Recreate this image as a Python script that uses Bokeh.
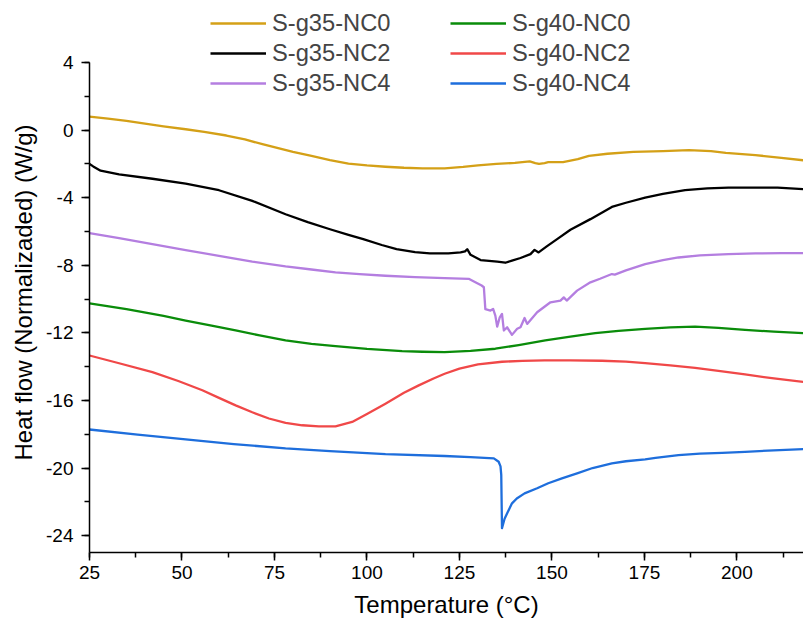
from bokeh.plotting import figure
from bokeh.models import (Range1d, SingleIntervalTicker, Legend, LegendItem, Title,
                          CustomJSTickFormatter)
from bokeh.embed import file_html
from bokeh.resources import INLINE

FONT = "Liberation Sans"

# DSC traces: temperature (°C) and normalized heat flow (W/g)
t_g35_nc0 = [25, 30, 35, 40, 45, 51, 56, 62, 67, 72, 76, 80, 85, 90, 95, 100, 105, 110, 115, 121,
             126, 130, 135, 140, 144, 145.5, 146.5, 148, 149, 153, 157, 160, 165, 172, 180, 187,
             193, 197, 205, 212, 218]
hf_g35_nc0 = [0.8, 0.68, 0.55, 0.38, 0.22, 0.05, -0.1, -0.32, -0.55, -0.85, -1.07, -1.29, -1.53,
              -1.78, -1.98, -2.09, -2.17, -2.23, -2.26, -2.26, -2.18, -2.09, -2.0, -1.94, -1.85,
              -1.95, -2.0, -1.95, -1.9, -1.89, -1.72, -1.52, -1.40, -1.29, -1.25, -1.19, -1.25,
              -1.35, -1.48, -1.64, -1.79]

t_g35_nc2 = [25, 26, 28, 33, 42, 51, 60, 69, 78, 84, 90, 95, 99, 104, 108, 113, 117, 122, 125.3,
             126.5, 127.1, 128, 130.7, 133, 135.2, 137.4, 139.2, 141.5, 144.2, 145.3, 146.4,
             148.5, 151.4, 155, 160.4, 166.2, 170, 175.2, 180, 186, 192, 197.7, 205, 211, 218]
hf_g35_nc2 = [-2.0, -2.15, -2.4, -2.62, -2.88, -3.17, -3.56, -4.19, -4.98, -5.45, -5.87, -6.2,
              -6.45, -6.8, -7.04, -7.22, -7.30, -7.30, -7.24, -7.18, -7.05, -7.38, -7.69, -7.74,
              -7.79, -7.85, -7.73, -7.57, -7.34, -7.09, -7.24, -6.9, -6.45, -5.9, -5.27, -4.55,
              -4.3, -4.0, -3.78, -3.55, -3.45, -3.41, -3.40, -3.41, -3.49]

t_g35_nc4 = [25, 33, 42, 51, 60, 69, 78, 85, 91.5, 98, 105, 113, 121, 127.5, 129.3, 131, 131.6,
             132, 133.4, 134.1, 134.7, 135.2, 135.9, 136.5, 137, 137.9, 139.2, 140.6, 141.5,
             142.6, 143.3, 146, 149.6, 152.3, 153.2, 154, 156.8, 160.4, 163, 166.2, 167, 170,
             175.2, 180, 184.2, 190, 197.7, 205, 212, 218]
hf_g35_nc4 = [-6.1, -6.4, -6.75, -7.1, -7.44, -7.78, -8.07, -8.25, -8.42, -8.53, -8.62, -8.70,
              -8.76, -8.80, -9.01, -9.2, -9.3, -10.6, -10.68, -10.58, -10.98, -11.63, -11.08,
              -10.88, -11.86, -11.67, -12.12, -11.76, -11.67, -11.12, -11.47, -10.78, -10.19,
              -10.09, -9.9, -10.09, -9.5, -9.01, -8.8, -8.52, -8.55, -8.3, -7.93, -7.7, -7.54,
              -7.42, -7.34, -7.3, -7.28, -7.28]

t_g40_nc0 = [25, 35, 45, 51, 58, 64.5, 71, 78, 85, 91.5, 100, 109.5, 115, 121, 128, 134.7, 141,
             148.2, 155, 161.7, 168, 175.2, 182, 188.7, 195, 202.2, 210, 218]
hf_g40_nc0 = [-10.25, -10.6, -11.0, -11.27, -11.57, -11.86, -12.15, -12.45, -12.65, -12.79,
              -12.95, -13.08, -13.12, -13.14, -13.07, -12.94, -12.72, -12.45, -12.22, -12.02,
              -11.88, -11.76, -11.68, -11.63, -11.7, -11.82, -11.93, -12.02]

t_g40_nc2 = [25, 33, 42, 49, 55.5, 60, 64.5, 69, 73.5, 78, 82.5, 87, 91.5, 96, 100, 105, 110,
             114, 118, 121, 125, 130, 136.5, 142, 148, 155, 163.5, 170, 175.2, 182, 188.7, 195,
             202.2, 210, 218]
hf_g40_nc2 = [-13.34, -13.8, -14.32, -14.85, -15.40, -15.85, -16.29, -16.7, -17.07, -17.33,
              -17.47, -17.53, -17.53, -17.27, -16.8, -16.19, -15.55, -15.11, -14.7, -14.42,
              -14.12, -13.87, -13.71, -13.66, -13.63, -13.63, -13.65, -13.7, -13.79, -13.92,
              -14.07, -14.25, -14.46, -14.7, -14.91]

t_g40_nc4 = [25, 38, 51, 64, 78, 90, 105, 121, 128, 134.3, 135.6, 136.1, 136.3, 136.5, 137.2,
             137.9, 139.2, 140.5, 142.6, 146, 149, 152.7, 157, 161, 166.2, 170, 175.2, 178,
             184.2, 190, 196, 202.2, 210, 218]
hf_g40_nc4 = [-17.72, -18.02, -18.30, -18.58, -18.84, -19.0, -19.18, -19.29, -19.35, -19.43,
              -19.63, -19.9, -20.4, -23.56, -23.0, -22.68, -22.09, -21.8, -21.5, -21.2, -20.9,
              -20.61, -20.3, -20.0, -19.73, -19.6, -19.49, -19.4, -19.24, -19.15, -19.1,
              -19.04, -18.95, -18.88]

series = [
    ("S-g35-NC0", t_g35_nc0, hf_g35_nc0, "#D4A017"),
    ("S-g35-NC2", t_g35_nc2, hf_g35_nc2, "#000000"),
    ("S-g35-NC4", t_g35_nc4, hf_g35_nc4, "#B47EE0"),
    ("S-g40-NC0", t_g40_nc0, hf_g40_nc0, "#0A8C0A"),
    ("S-g40-NC2", t_g40_nc2, hf_g40_nc2, "#F04848"),
    ("S-g40-NC4", t_g40_nc4, hf_g40_nc4, "#1E6EDC"),
]

# The frame runs to the top edge so the legend can sit above the traces;
# the y axis itself is bounded to -25..4.
p = figure(width=803, height=620, output_backend="svg", toolbar_location=None,
           x_range=Range1d(25, 218), y_range=Range1d(-25, 7.67),
           min_border_left=89, min_border_right=0, min_border_top=0, min_border_bottom=68)
p.outline_line_color = None
p.grid.visible = False
p.background_fill_color = "white"
p.border_fill_color = "white"

renderers = {}
for name, xs, ys, color in series:
    renderers[name] = p.line(xs, ys, line_color=color, line_width=2.3, line_join="round")

p.xaxis.ticker = SingleIntervalTicker(interval=25, num_minor_ticks=2)
p.yaxis.ticker = SingleIntervalTicker(interval=4, num_minor_ticks=2)
p.yaxis.bounds = (-25, 4)
p.yaxis.formatter = CustomJSTickFormatter(code="return tick.toFixed(0)")
for ax in (p.xaxis[0], p.yaxis[0]):
    ax.axis_line_width = 1.5
    ax.major_tick_line_width = 1.5
    ax.minor_tick_line_width = 1.5
    ax.major_tick_in = 0
    ax.major_tick_out = 8
    ax.minor_tick_in = 0
    ax.minor_tick_out = 5
    ax.major_label_text_font = FONT
    ax.major_label_text_font_size = "19px"
    ax.major_label_text_color = "black"
p.xaxis.major_label_standoff = 5
p.yaxis.major_label_standoff = 8

p.xaxis.axis_label = "Temperature (°C)"
p.xaxis.axis_label_text_font = FONT
p.xaxis.axis_label_text_font_size = "24px"
p.xaxis.axis_label_text_font_style = "normal"
p.xaxis.axis_label_text_color = "black"
p.xaxis.axis_label_standoff = 9

ylabel = Title(text="Heat flow (Normalizaded) (W/g)", align="left", offset=92,
               text_font=FONT, text_font_size="24px", text_font_style="normal",
               text_color="black", standoff=14)
p.add_layout(ylabel, "left")

# two-column legend above the traces
names = [s[0] for s in series]
for col, loc in ((names[:3], (121, 454)), (names[3:], (361, 454))):
    leg = Legend(items=[LegendItem(label=n, renderers=[renderers[n]]) for n in col],
                 location=loc, orientation="vertical", padding=0, margin=0, spacing=0,
                 glyph_width=56, glyph_height=30, label_height=30, label_standoff=6,
                 label_text_font=FONT, label_text_font_size="23.7px",
                 border_line_color=None, background_fill_alpha=0)
    p.add_layout(leg)

open("out.html", "w").write(file_html(p, INLINE))
